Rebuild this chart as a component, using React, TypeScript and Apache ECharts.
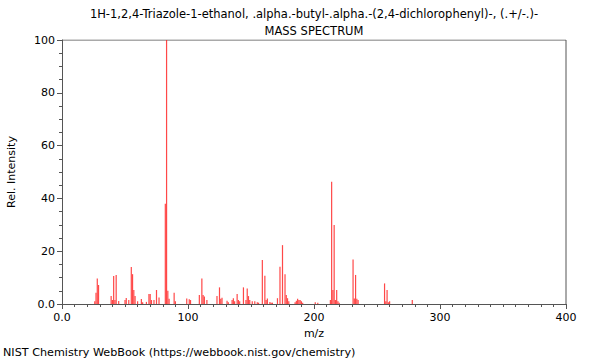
import React, { useEffect, useRef } from "react";
import * as echarts from "echarts";

const titleLine1 = "1H-1,2,4-Triazole-1-ethanol, .alpha.-butyl-.alpha.-(2,4-dichlorophenyl)-, (.+/-.)-";
const titleLine2 = "MASS SPECTRUM";
const footer = "NIST Chemistry WebBook (https://webbook.nist.gov/chemistry)";
const xName = "m/z";
const yName = "Rel. Intensity";

const mz = [
  26, 27, 28, 29, 39, 40, 41, 42, 43, 45, 50, 51, 53, 55, 56, 57, 58, 60, 63, 64, 67, 69, 70, 71, 73, 75, 77,
  82, 83, 84, 85, 89, 90, 99, 101, 102, 109, 111, 112, 113, 115, 123, 125, 126, 127, 131, 132, 135, 136, 137,
  139, 140, 141, 144, 146, 147, 148, 149, 151, 153, 155, 156, 159, 161, 162, 163, 165, 166, 167, 171, 173, 175,
  177, 178, 179, 180, 185, 186, 187, 188, 189, 190, 191, 201, 203, 213, 214, 215, 216, 217, 218, 219, 220, 231,
  232, 233, 234, 235, 256, 257, 258, 259, 260, 278,
];
const intensity = [
  1, 4.3, 9.7, 7.2, 3, 1.5, 10.6, 1.5, 11, 1.1, 1.5, 2.3, 1.5, 14, 11.3, 5.3, 3, 1, 1.9, 0.7, 0.8, 3.8, 3.8, 1.5, 1.5, 5.3, 2.5,
  38, 100, 5, 2, 4.3, 1, 2.1, 1.8, 1.5, 3.4, 9.7, 3.4, 2.8, 1.5, 3, 6.3, 2, 2.4, 1.2, 0.7, 1.5, 2.2, 1,
  3.8, 1.5, 1, 6.3, 1.5, 5.9, 3, 1.5, 1, 1, 0.7, 0.5, 16.7, 10.7, 1.5, 2.1, 0.8, 0.5, 0.5, 2.2, 14.1, 22.3,
  11.3, 3.4, 2.2, 1, 0.7, 1.2, 2, 1.5, 1.5, 1, 0.5, 0.7, 0.5, 1.5, 46.3, 5.3, 29.9, 1.5, 5.3, 1, 0.5, 16.9,
  2.1, 11, 2, 1.5, 7.8, 1, 5.3, 0.7, 1, 1.5,
];

const xMin = 0;
const xMax = 400;
const yMin = 0;
const yMax = 100;

const FONT = "DejaVu Sans";

export default function App() {
  const ref = useRef<HTMLDivElement>(null);
  useEffect(() => {
    if (!ref.current) return;
    const chart = echarts.init(ref.current, undefined, { renderer: "svg" });
    const data = mz.map((m, i) => [m, intensity[i]]);
    const axisColor = "#555";
    chart.setOption({
      animation: false,
      backgroundColor: "#fff",
      textStyle: { fontFamily: FONT },
      grid: {
        left: 62,
        right: 34,
        top: 40,
        bottom: 56,
        containLabel: false,
        outerBoundsMode: "none",
        show: false,
      },
      title: [
        {
          text: titleLine1,
          left: 314,
          textAlign: "center",
          top: 7,
          padding: 0,
          textStyle: { fontFamily: FONT, fontSize: 11.5, fontWeight: "normal", color: "#000", lineHeight: 14 },
        },
        {
          text: titleLine2,
          left: 314,
          textAlign: "center",
          top: 24,
          padding: 0,
          textStyle: { fontFamily: FONT, fontSize: 11.5, fontWeight: "normal", color: "#000", lineHeight: 14 },
        },
        {
          text: footer,
          left: 3,
          top: 346,
          padding: 0,
          textStyle: { fontFamily: FONT, fontSize: 11.2, fontWeight: "normal", color: "#000", lineHeight: 13 },
        },
      ],
      xAxis: {
        type: "value",
        min: xMin,
        max: xMax,
        interval: 100,
        name: xName,
        nameLocation: "middle",
        nameGap: 24,
        nameTextStyle: { fontFamily: FONT, fontSize: 11, color: "#000" },
        axisLine: { show: true, onZero: false, lineStyle: { color: axisColor, width: 1 } },
        axisTick: { show: true, length: 5, lineStyle: { color: axisColor } },
        minorTick: { show: true, splitNumber: 10, length: 3, lineStyle: { color: axisColor } },
        splitLine: { show: false },
        axisLabel: {
          fontFamily: FONT,
          fontSize: 11,
          color: "#000",
          margin: 8,
          formatter: (v: number) => (v === 0 ? "0.0" : String(v)),
        },
      },
      yAxis: {
        type: "value",
        min: yMin,
        max: yMax,
        interval: 20,
        name: yName,
        nameLocation: "middle",
        nameGap: 45,
        nameTextStyle: { fontFamily: FONT, fontSize: 11, color: "#000" },
        axisLine: { show: true, lineStyle: { color: axisColor, width: 1 } },
        axisTick: { show: true, length: 5, lineStyle: { color: axisColor } },
        minorTick: { show: true, splitNumber: 4, length: 3, lineStyle: { color: axisColor } },
        splitLine: { show: false },
        axisLabel: {
          fontFamily: FONT,
          fontSize: 11,
          color: "#000",
          margin: 7,
          formatter: (v: number) => (v === 0 ? "0.0" : String(v)),
        },
      },
      series: [
        {
          type: "custom",
          data,
          clip: true,
          renderItem: (params: any, api: any) => {
            const x = api.value(0);
            const y = api.value(1);
            const p0 = api.coord([x, 0]);
            const p1 = api.coord([x, y]);
            return {
              type: "line",
              shape: { x1: p0[0], y1: p0[1], x2: p1[0], y2: p1[1] },
              style: { stroke: "rgba(255,40,40,0.85)", lineWidth: 1.2 },
            };
          },
        },
        {
          type: "line",
          data: [[xMin, yMax], [xMax, yMax], [xMax, yMin]],
          symbol: "none",
          silent: true,
          lineStyle: { color: axisColor, width: 1 },
          z: 1,
        },
      ],
    });
    return () => chart.dispose();
  }, []);
  return <div ref={ref} style={{ width: 600, height: 360, position: "absolute", left: 0, top: 0 }} />;
}
